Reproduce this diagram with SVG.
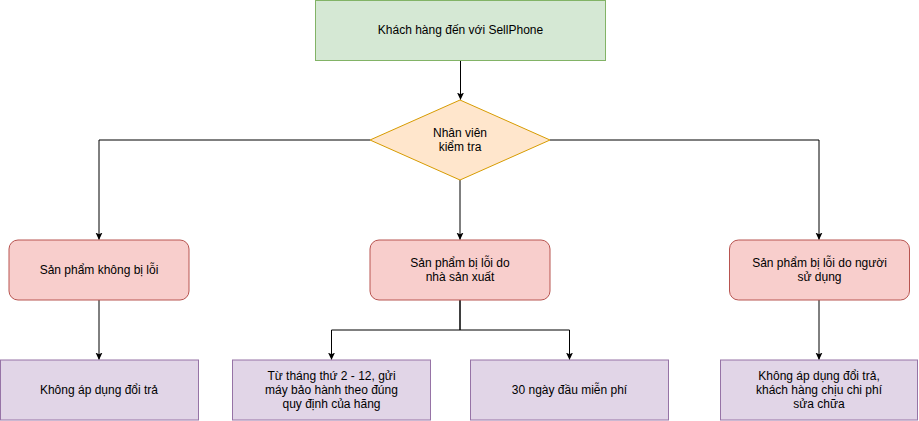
<svg xmlns="http://www.w3.org/2000/svg" width="919" height="421" viewBox="0 0 919 421">
<style>
text{font-family:"Liberation Sans",Arial,sans-serif;font-size:12px;fill:#000;text-anchor:middle;dominant-baseline:central}
.g{fill:#d5e8d4;stroke:#82b366}
.d{fill:#ffe6cc;stroke:#d79b00}
.r{fill:#f8cecc;stroke:#b85450}
.p{fill:#e1d5e7;stroke:#9673a6}
.c{fill:none;stroke:#000;stroke-width:1;marker-end:url(#a)}
</style>
<defs>
<marker id="a" markerWidth="8" markerHeight="8" refX="7" refY="4" orient="auto" markerUnits="userSpaceOnUse">
<path d="M0,0.5 L7.5,4 L0,7.5 L1.8,4 Z" fill="#000"/>
</marker>
</defs>
<g id="connectors">
<path class="c" d="M460.5,60.5 V99.5"/>
<path class="c" d="M370,140 H99 V239.5"/>
<path class="c" d="M460,180 V239.5"/>
<path class="c" d="M550,140 H819 V239.5"/>
<path class="c" d="M99,300 V359.5"/>
<path class="c" d="M460,300 V330 H331.5 V359.5"/>
<path class="c" d="M460,300 V330 H569.5 V359.5"/>
<path class="c" d="M819,300 V359.5"/>
</g>
<g id="start"><rect class="g" x="315.5" y="0.5" width="290" height="60"/><text x="460.5" y="29.5">Khách hàng đến với SellPhone</text></g>
<g id="check"><path class="d" d="M460,100 L550,140 L460,180 L370,140 Z"/><text x="460" y="133">Nhân viên</text><text x="460" y="147">kiểm tra</text></g>
<g id="noerr"><rect class="r" x="9" y="240" width="180" height="60" rx="9"/><text x="99" y="270">Sản phẩm không bị lỗi</text></g>
<g id="maker"><rect class="r" x="370" y="240" width="180" height="60" rx="9"/><text x="460" y="263">Sản phẩm bị lỗi do</text><text x="460" y="277">nhà sản xuất</text></g>
<g id="user"><rect class="r" x="729.5" y="240" width="180" height="60" rx="9"/><text x="819.5" y="263">Sản phẩm bị lỗi do người</text><text x="819.5" y="277">sử dụng</text></g>
<g id="noreturn"><rect class="p" x="0.5" y="360" width="198" height="60"/><text x="99" y="390">Không áp dụng đổi trả</text></g>
<g id="warranty"><rect class="p" x="232.5" y="360" width="198" height="60"/><text x="331.5" y="376">Từ tháng thứ 2 - 12, gửi</text><text x="331.5" y="390">máy bảo hành theo đúng</text><text x="331.5" y="404">quy định của hãng</text></g>
<g id="free"><rect class="p" x="470.5" y="360" width="198" height="60"/><text x="569.5" y="390">30 ngày đầu miễn phí</text></g>
<g id="paid"><rect class="p" x="720.5" y="360" width="197" height="60"/><text x="819" y="376">Không áp dụng đổi trả,</text><text x="819" y="390">khách hàng chịu chi phí</text><text x="819" y="404">sửa chữa</text></g>
</svg>
